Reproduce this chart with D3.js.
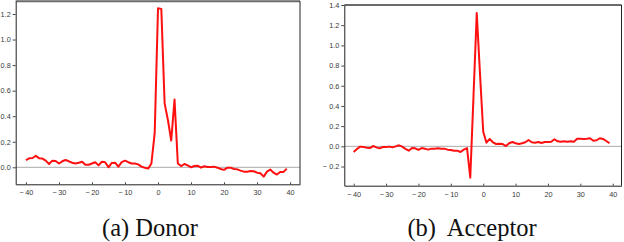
<!DOCTYPE html>
<html>
<head>
<meta charset="utf-8">
<script src="https://cdn.jsdelivr.net/npm/d3@7"></script>
<style>
  body { margin: 0; background: #fff; }
  svg { display: block; }
  .tick-label { font-family: "Liberation Sans", Arial, sans-serif; font-size: 7.3px; fill: #3a3a3a; }
  .caption { font-family: "Liberation Serif", "Times New Roman", serif; font-size: 24.5px; fill: #111; }
</style>
</head>
<body>
<svg width="624" height="242"></svg>
<script>
// positions relative to the splice site
const positions = d3.range(-40, 40)

const donorValues = [
  0.057, 0.07, 0.073, 0.09, 0.07, 0.068, 0.052, 0.026, 0.052, 0.05,
  0.03, 0.047, 0.057, 0.047, 0.036, 0.03, 0.036, 0.044, 0.02, 0.02,
  0.03, 0.04, 0.015, 0.044, 0.04, 0.0, 0.034, 0.036, 0.005, 0.04,
  0.052, 0.04, 0.03, 0.03, 0.023, 0.005, -0.003, -0.01, 0.03, 0.27,
  1.245, 1.24, 0.5, 0.37, 0.21, 0.53, 0.03, 0.01, 0.026, 0.015,
  0.0, 0.01, 0.013, -0.003, 0.008, 0.003, 0.003, 0.005, -0.003, -0.013,
  -0.02, -0.003, -0.003, -0.013, -0.016, -0.026, -0.034, -0.034, -0.029, -0.031,
  -0.042, -0.047, -0.073, -0.034, -0.018, -0.042, -0.057, -0.036, -0.036, -0.01
]

const acceptorValues = [
  -0.056, -0.026, -0.003, -0.007, -0.013, -0.017, 0.003, -0.01, -0.02, -0.007,
  -0.007, -0.003, -0.01, 0.0, 0.01, -0.003, -0.026, -0.043, -0.017, -0.02,
  -0.036, -0.017, -0.023, -0.033, -0.023, -0.023, -0.02, -0.023, -0.023, -0.033,
  -0.036, -0.043, -0.043, -0.056, -0.033, -0.017, -0.31, 0.5, 1.32, 0.72,
  0.145, 0.036, 0.073, 0.04, 0.023, 0.026, 0.023, 0.003, 0.03, 0.043,
  0.03, 0.023, 0.03, 0.04, 0.063, 0.04, 0.036, 0.043, 0.033, 0.043,
  0.043, 0.046, 0.07, 0.05, 0.046, 0.05, 0.046, 0.05, 0.046, 0.076,
  0.076, 0.073, 0.076, 0.08, 0.056, 0.06, 0.08, 0.073, 0.053, 0.03
]

const xTicks = [-40, -30, -20, -10, 0, 10, 20, 30, 40]
const donorYTicks = [0, 0.2, 0.4, 0.6, 0.8, 1.0, 1.2]
const acceptorYTicks = [-0.2, 0, 0.2, 0.4, 0.6, 0.8, 1.0, 1.2, 1.4]
const captions = ["(a) Donor", "(b)\u00a0 Acceptor"]

const panels = [
  { values: donorValues, yTicks: donorYTicks, caption: captions[0],
    xDomain: [-43.1, 43], xRange: [15.7, 300],
    yDomain: [-0.133, 1.30], yRange: [184.3, 1.2], captionX: 150 },
  { values: acceptorValues, yTicks: acceptorYTicks, caption: captions[1],
    xDomain: [-42.9, 42.7], xRange: [344.3, 621.5],
    yDomain: [-0.39, 1.4], yRange: [185.7, 5], captionX: 472 }
]

const fmtX = d => d < 0 ? "\u2212\u2009" + Math.abs(d) : String(d)
const fmtY = d => d < 0 ? "\u2212 " + Math.abs(d).toFixed(1) : d.toFixed(1)

const svg = d3.select("svg")

panels.forEach(p => {
  const x = d3.scaleLinear().domain(p.xDomain).range(p.xRange),
      y = d3.scaleLinear().domain(p.yDomain).range(p.yRange),
      g = svg.append("g")

  const [x0, x1] = p.xRange, [yb, yt] = p.yRange

  // zero line
  g.append("line")
    .attr("x1", x0).attr("x2", x1)
    .attr("y1", y(0)).attr("y2", y(0))
    .style("stroke", "#aaa").style("stroke-width", 1)

  // data line
  const line = d3.line()
    .x((d, i) => x(positions[i]))
    .y(d => y(d))
  g.append("path")
    .datum(p.values)
    .attr("d", line)
    .style("fill", "none")
    .style("stroke", "#ff1010")
    .style("stroke-width", 2)
    .style("stroke-linejoin", "round")

  // frame
  g.append("line").attr("x1", x0).attr("x2", x1).attr("y1", yt).attr("y2", yt)
    .style("stroke", "#6a6a6a").style("stroke-width", 2)
  g.append("line").attr("x1", x1).attr("x2", x1).attr("y1", yt).attr("y2", yb)
    .style("stroke", "#222").style("stroke-width", 1)

  const xAxis = g.append("g")
    .attr("transform", `translate(0,${yb})`)
    .call(d3.axisBottom(x).tickValues(xTicks).tickFormat(fmtX).tickSizeInner(-2).tickSizeOuter(0).tickPadding(6))
  const yAxis = g.append("g")
    .attr("transform", `translate(${x0},0)`)
    .call(d3.axisLeft(y).tickValues(p.yTicks).tickFormat(fmtY).tickSizeInner(3).tickSizeOuter(0).tickPadding(2))

  ;[xAxis, yAxis].forEach(a => {
    a.select(".domain").style("stroke", "#222")
    a.selectAll(".tick line").style("stroke", "#444")
    a.selectAll(".tick text").attr("class", "tick-label").attr("fill", null).attr("font-size", null)
    a.attr("font-family", null).attr("font-size", null)
  })

  svg.append("text")
    .attr("class", "caption")
    .attr("x", p.captionX)
    .attr("y", 236)
    .attr("text-anchor", "middle")
    .text(p.caption)
})
</script>
</body>
</html>
